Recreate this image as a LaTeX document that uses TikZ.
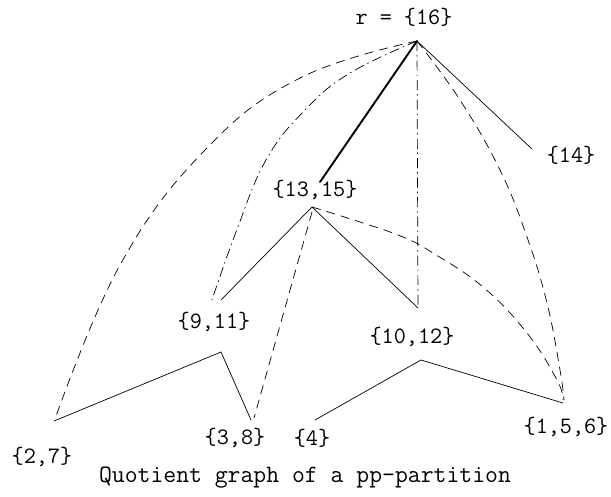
\documentclass[tikz,border=0pt]{standalone}
\usepackage{fontspec}
\begin{document}
\begin{tikzpicture}[x=1pt,y=-1pt,
  lbl/.style={font=\fontsize{23.5}{27}\selectfont\ttfamily, inner sep=0pt, anchor=center},
  captiontext/.style={font=\fontsize{25}{29}\selectfont\ttfamily, inner sep=0pt, anchor=center},
  edge/.style={line width=0.7pt, line cap=round},
  thickedge/.style={line width=1.9pt, line cap=round},
  dashedge/.style={line width=0.7pt, dash pattern=on 9pt off 6pt},
  dotedge/.style={line width=0.7pt, dash pattern=on 10pt off 4pt on 1.5pt off 4pt}]
\useasboundingbox (0,0) rectangle (611,496);
% vertices / end points
\coordinate (r16) at (417,41);
\coordinate (e14) at (532,149);
\coordinate (t1315) at (320,182);
\coordinate (A) at (312,207);
\coordinate (Ad) at (312,212);
\coordinate (p911) at (221,300);
\coordinate (q911) at (212,300);
\coordinate (B) at (418,308);
\coordinate (peakL) at (221,352);
\coordinate (p27) at (54,421);
\coordinate (q27) at (55,419);
\coordinate (p38) at (251,420);
\coordinate (q38) at (254,418);
\coordinate (p4) at (315,420);
\coordinate (peakR) at (421,360);
\coordinate (p156) at (563,403);
\coordinate (q156) at (564,400);
\coordinate (s156) at (563,400);
% labels
\node[lbl] (n16) at (404,17) {r = \{16\}};
\node[lbl] (n14) at (571,155) {\{14\}};
\node[lbl] (n1315) at (315,190) {\{13,15\}};
\node[lbl] (n911) at (214,322) {\{9,11\}};
\node[lbl] (n1012) at (412,337) {\{10,12\}};
\node[lbl] (n27) at (42,457) {\{2,7\}};
\node[lbl] (n38) at (235,438) {\{3,8\}};
\node[lbl] (n4) at (312,438) {\{4\}};
\node[lbl] (n156) at (566,427) {\{1,5,6\}};
\node[captiontext] (caption) at (305,478) {Quotient graph of a pp-partition};
% edges from the root
\draw[edge] (r16) -- (e14);
\draw[thickedge] (r16) -- (t1315);
\draw[dotedge] (r16) -- (B);
\draw[dashedge] plot[smooth, tension=0.7] coordinates {(r16) (300,78) (205,150) (120,265) (q27)};
\draw[dotedge] plot[smooth, tension=0.7] coordinates {(r16) (350,73) (305,110) (266,160) (236,232) (q911)};
\draw[dashedge] plot[smooth, tension=0.7] coordinates {(r16) (460,100) (500,170) (527,237) (547,303) (560,370) (q156)};
% edges from {13,15}
\draw[edge] (A) -- (p911);
\draw[edge] (A) -- (B);
\draw[dashedge] (Ad) -- (q38);
\draw[dashedge] plot[smooth, tension=0.7] coordinates {(A) (360,222) (403,237) (433,253) (483,287) (527,333) (557,380) (s156)};
% zigzags
\draw[edge] (p27) -- (peakL) -- (p38);
\draw[edge] (p4) -- (peakR) -- (p156);
\end{tikzpicture}
\end{document}
